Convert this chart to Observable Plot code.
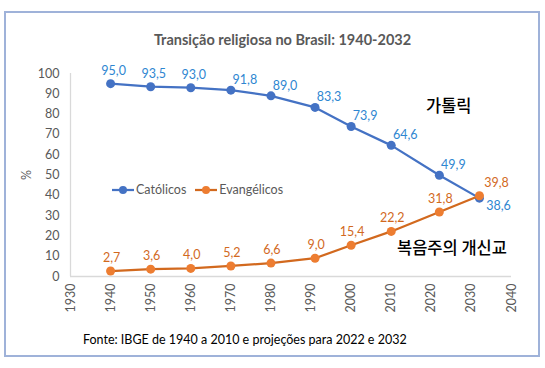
<!DOCTYPE html>
<html><head><meta charset="utf-8">
<script src="https://cdn.jsdelivr.net/npm/d3@7"></script>
<script src="https://cdn.jsdelivr.net/npm/@observablehq/plot@0.6"></script>
<style>
body{margin:0;background:#fff;}
#wrap{position:relative;width:545px;height:368px;font-family:Lato,"Noto Sans",sans-serif;overflow:hidden;}
#wrap .abs{position:absolute;white-space:nowrap;}
#frame{position:absolute;left:4px;top:11px;width:536px;height:346px;border:2px solid #9fb2d9;box-sizing:border-box;pointer-events:none;}
#title{left:0;width:565px;text-align:center;top:31px;font-weight:bold;font-size:14.5px;color:#595959;}
#source{left:83px;top:332px;font-size:12.5px;color:#000;}
.kr{font-family:"Noto Sans CJK KR",sans-serif;font-size:16.5px;font-weight:500;color:#000;}
.leg{font-size:12.5px;color:#595959;display:flex;align-items:center;}
</style>
</head><body>
<div id="wrap">
  <div id="plot" class="abs" style="left:0;top:0"></div>
  <div id="title" class="abs">Transição religiosa no Brasil: 1940-2032</div>
  <div class="abs kr" style="left:426px;top:93px">가톨릭</div>
  <div class="abs kr" style="left:397px;top:235px">복음주의 개신교</div>
  <div id="legend" class="abs" style="left:112px;top:182px;display:flex;gap:9px"></div>
  <div id="source" class="abs">Fonte: IBGE de 1940 a 2010 e projeções para 2022 e 2032</div>
  <div id="frame"></div>
</div>
<script>
const years = [1940, 1950, 1960, 1970, 1980, 1991, 2000, 2010, 2022, 2032];
const catolicos = [95.0, 93.5, 93.0, 91.8, 89.0, 83.3, 73.9, 64.6, 49.9, 38.6];
const evangelicos = [2.7, 3.6, 4.0, 5.2, 6.6, 9.0, 15.4, 22.2, 31.8, 39.8];
const seriesNames = ["Católicos", "Evangélicos"];
const xTicks = [1930, 1940, 1950, 1960, 1970, 1980, 1990, 2000, 2010, 2020, 2030, 2040];
const yTicks = [0, 10, 20, 30, 40, 50, 60, 70, 80, 90, 100];

const blue = "#4472C4", blueLbl = "#2E86D1";
const orangeLine = "#D2691E", orangeDot = "#ED7D31", orangeLbl = "#D2691E";

const cat = years.map((x, i) => ({x, y: catolicos[i], i}));
const eva = years.map((x, i) => ({x, y: evangelicos[i], i}));
const fmt = v => v.toFixed(1).replace(".", ",");
const last = years.length - 1;

const chart = Plot.plot({
  width: 545, height: 368,
  marginLeft: 70, marginRight: 34, marginTop: 73, marginBottom: 92,
  style: {background: "transparent", fontFamily: "Lato, 'Noto Sans', sans-serif", overflow: "visible"},
  x: {domain: [1930, 2040]},
  y: {domain: [0, 100]},
  marks: [
    Plot.ruleY([0], {stroke: "#d9d9d9", strokeWidth: 1.3}),
    Plot.ruleX([1930], {stroke: "#d9d9d9", strokeWidth: 1.3}),
    Plot.axisY({ticks: yTicks, tickSize: 0, tickPadding: 11, fontSize: 12.5, color: "#595959",
      label: "%", labelAnchor: "center", labelArrow: "none", labelOffset: 48}),
    Plot.axisX({ticks: xTicks, tickFormat: d => String(d), tickRotate: -90, tickSize: 0, tickPadding: 7,
      fontSize: 12.5, color: "#595959", label: null}),
    Plot.line(cat, {x: "x", y: "y", stroke: blue, strokeWidth: 2.25}),
    Plot.dot(cat, {x: "x", y: "y", fill: blue, r: 4.5}),
    Plot.line(eva, {x: "x", y: "y", stroke: orangeLine, strokeWidth: 2.25}),
    Plot.dot(eva, {x: "x", y: "y", fill: orangeDot, r: 4.5}),
    Plot.text(cat.filter(d => d.i < 3), {x: "x", y: "y", text: d => fmt(d.y), dx: 3, dy: -13, fill: blueLbl, fontSize: 12.5}),
    Plot.text(cat.filter(d => d.i >= 3 && d.i < last), {x: "x", y: "y", text: d => fmt(d.y), dx: 14, dy: -10, fill: blueLbl, fontSize: 12.5}),
    Plot.text(cat.filter(d => d.i === last), {x: "x", y: "y", text: d => fmt(d.y), dx: 19, dy: 8, fill: blueLbl, fontSize: 12.5}),
    Plot.text(eva.filter(d => d.i < last), {x: "x", y: "y", text: d => fmt(d.y), dx: 1, dy: -13, fill: orangeLbl, fontSize: 12.5}),
    Plot.text(eva.filter(d => d.i === last), {x: "x", y: "y", text: d => fmt(d.y), dx: 17, dy: -13, fill: orangeLbl, fontSize: 12.5})
  ]
});
document.getElementById("plot").appendChild(chart);

const legend = document.getElementById("legend");
[[seriesNames[0], blue, blue], [seriesNames[1], orangeLine, orangeDot]].forEach(([name, lc, dc]) => {
  const item = document.createElement("div");
  item.className = "leg";
  item.innerHTML = `<svg width="22" height="10" style="margin-right:2px"><line x1="0" x2="22" y1="5" y2="5" stroke="${lc}" stroke-width="2.25"/><circle cx="11" cy="5" r="4" fill="${dc}"/></svg><span>${name}</span>`;
  legend.appendChild(item);
});
</script>
</body></html>
